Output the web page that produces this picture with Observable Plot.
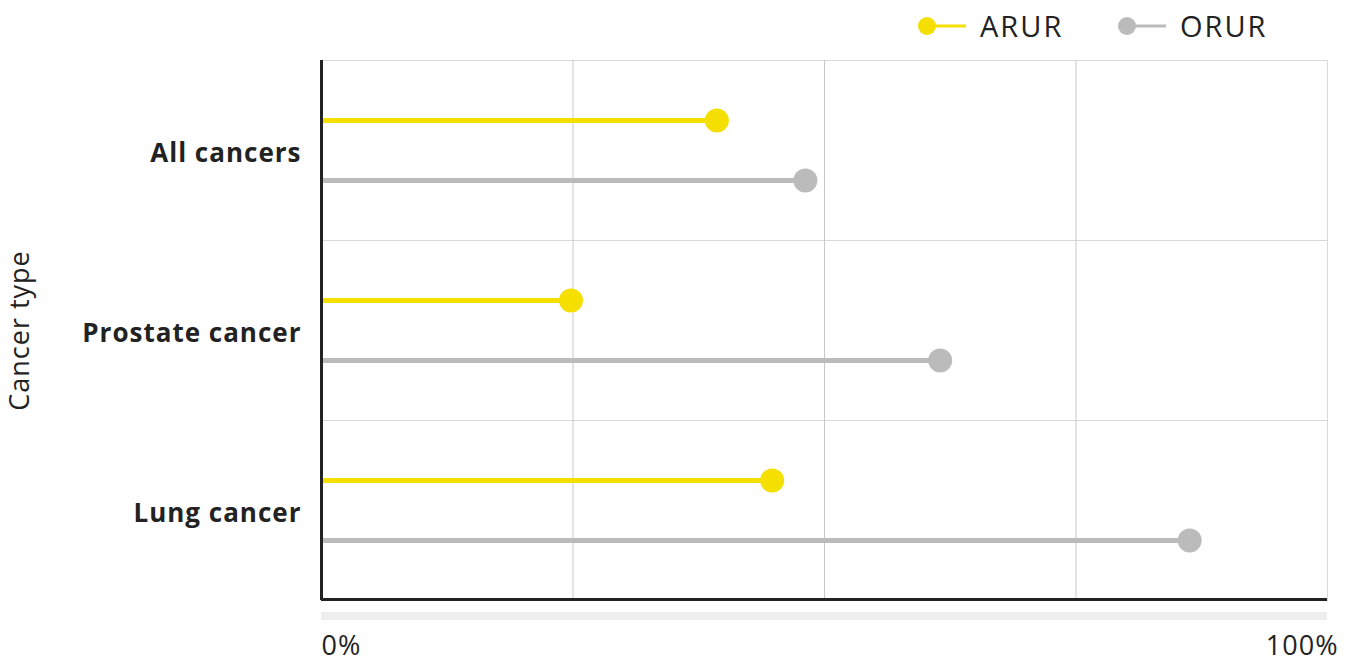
<!DOCTYPE html>
<html>
<head>
<meta charset="utf-8">
<script src="https://cdn.jsdelivr.net/npm/d3@7"></script>
<script src="https://cdn.jsdelivr.net/npm/@observablehq/plot@0.6"></script>
<style>
  html, body { margin: 0; padding: 0; background: #fff; overflow: hidden; }
  body { font-family: "Open Sans", Lato, sans-serif; color: #222; }
  #legend { position: relative; height: 50px; width: 1351px; }
  .item { position: absolute; top: 0; height: 50px; display: flex; align-items: center; font-size: 29px; letter-spacing: 2px; }
  .item svg { margin-right: 13px; }
  #chart svg text { letter-spacing: 1px; }
</style>
</head>
<body>
<div id="legend"></div>
<div id="chart"></div>
<script>
const cancers = ["All cancers", "Prostate cancer", "Lung cancer"];
const series = ["ARUR", "ORUR"];
const arur = [39.3, 24.8, 44.8];
const orur = [48.1, 61.5, 86.3];
const colors = ["#f5df00", "#bbbbbb"];
const xDomain = [0, 100];
const gridTicks = [25, 50, 75];
const tickLabelsStart = [0];
const tickLabelsEnd = [100];

const data = cancers.flatMap((c, i) => [
  {cancer: c, series: "ARUR", value: arur[i]},
  {cancer: c, series: "ORUR", value: orur[i]}
]);
const bottomRow = [{cancer: cancers[cancers.length - 1]}];

// legend
const legendLeft = [917, 1117];
const legend = document.getElementById("legend");
series.forEach((s, i) => {
  const div = document.createElement("div");
  div.className = "item";
  div.style.left = legendLeft[i] + "px";
  div.innerHTML = `<svg width="50" height="22"><line x1="10" x2="49" y1="12" y2="12" stroke="${colors[i]}" stroke-width="3"/><circle cx="10" cy="12" r="9" fill="${colors[i]}"/></svg><span>${s}</span>`;
  legend.appendChild(div);
});

const chart = Plot.plot({
  width: 1351,
  height: 612,
  marginLeft: 321,
  marginRight: 24,
  marginTop: 10,
  marginBottom: 62,
  style: {fontFamily: "'Open Sans', Lato, sans-serif", background: "white", color: "#222"},
  x: {domain: xDomain, axis: null},
  y: {type: "point", domain: series, padding: 1, axis: null},
  fy: {domain: cancers, padding: 0, axis: null},
  color: {domain: series, range: colors},
  marks: [
    Plot.frame({stroke: "#d9d9d9"}),
    Plot.gridX(gridTicks, {stroke: "#c8c8c8", strokeOpacity: 1}),
    Plot.ruleY(data, {fy: "cancer", y: "series", x1: xDomain[0], x2: "value", stroke: "series", strokeWidth: 5}),
    Plot.dot(data, {fy: "cancer", y: "series", x: "value", fill: "series", r: 12}),
    Plot.ruleX([xDomain[0]], {stroke: "#222", strokeWidth: 3}),
    Plot.rect(bottomRow, {fy: "cancer", x1: xDomain[0], x2: xDomain[1], fill: "#222", insetTop: 178, insetBottom: -1}),
    Plot.rect(bottomRow, {fy: "cancer", x1: xDomain[0], x2: xDomain[1], fill: "#eeeeee", insetTop: 192, insetBottom: -20}),
    Plot.axisFy({anchor: "left", tickSize: 0, tickPadding: 20, fontSize: 26, fontWeight: "bold", label: null, dy: 3}),
    Plot.axisFy({anchor: "left", tickSize: 0, ticks: [], label: "Cancer type", labelAnchor: "center", labelOffset: 312, fontSize: 27}),
    Plot.axisX(tickLabelsStart, {anchor: "bottom", tickSize: 0, tickPadding: 35, textAnchor: "start", tickFormat: d => d + "%", fontSize: 27, label: null}),
    Plot.axisX(tickLabelsEnd, {anchor: "bottom", tickSize: 0, tickPadding: 35, textAnchor: "end", dx: 11, tickFormat: d => d + "%", fontSize: 27, label: null})
  ]
});
document.getElementById("chart").appendChild(chart);
</script>
</body>
</html>
